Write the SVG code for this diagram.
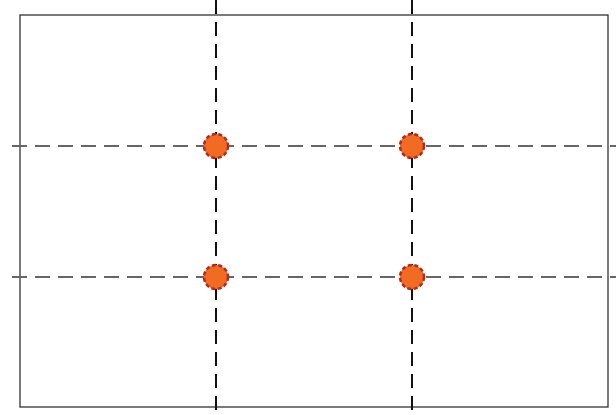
<svg xmlns="http://www.w3.org/2000/svg" width="616" height="415" viewBox="0 0 616 415">
<style>
.frame{fill:none;stroke:#333;stroke-width:1.3}
.v{stroke:#111;stroke-width:2;stroke-dasharray:14 8}
.h{stroke:#666;stroke-width:2;stroke-dasharray:15 8}
.pt{fill:#F26B22;stroke:#B8281A;stroke-width:2.5;stroke-dasharray:4 2.5}
</style>
<rect width="616" height="415" fill="#fff"/>
<rect class="frame" x="20" y="15" width="588" height="392"/>
<g id="connectors">
<line class="v" x1="216" y1="0" x2="216" y2="415"/>
<line class="v" x1="412" y1="0" x2="412" y2="415"/>
<line class="h" x1="12" y1="146" x2="616" y2="146"/>
<line class="h" x1="12" y1="277" x2="616" y2="277"/>
</g>
<g id="p1"><circle class="pt" cx="216" cy="146" r="12"/></g>
<g id="p2"><circle class="pt" cx="412" cy="146" r="12"/></g>
<g id="p3"><circle class="pt" cx="216" cy="277" r="12"/></g>
<g id="p4"><circle class="pt" cx="412" cy="277" r="12"/></g>
</svg>
